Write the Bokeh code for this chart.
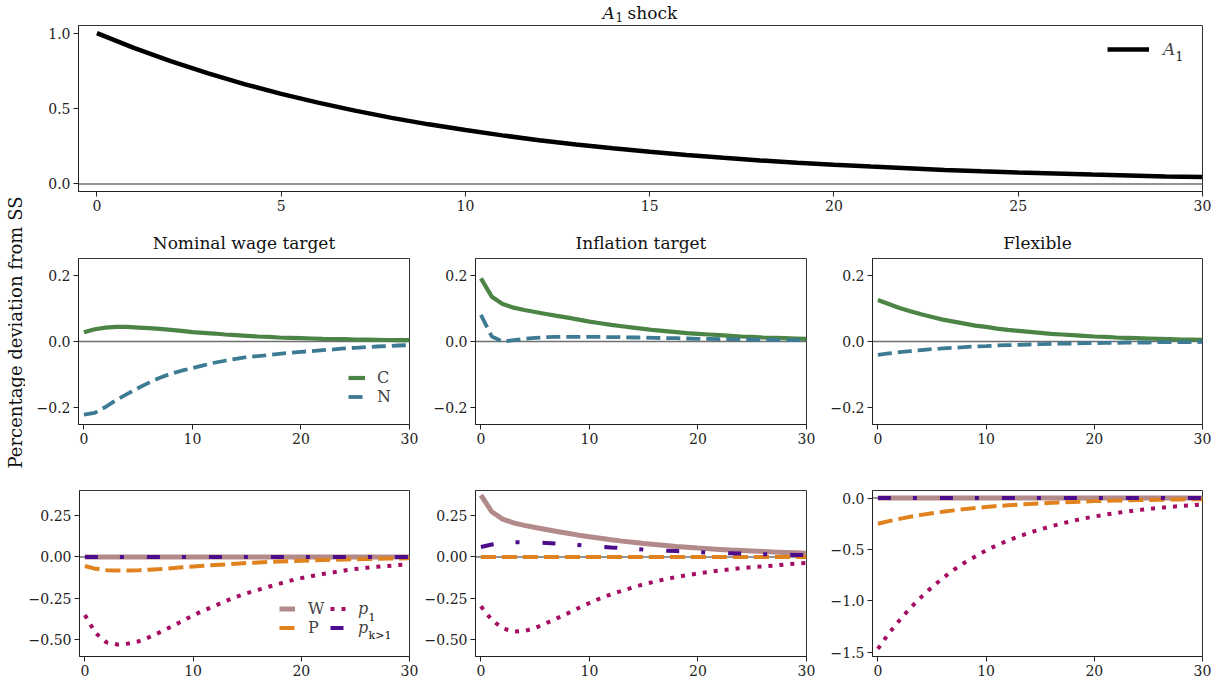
import math
from bokeh.plotting import figure
from bokeh.layouts import column, row
from bokeh.models import Range1d, FixedTicker, Span, Legend, LegendItem, Label
from bokeh.embed import file_html
from bokeh.resources import INLINE

FONT = "DejaVu Serif"

t = list(range(31))

# ---- top panel ----
A1 = [1.000, 0.902, 0.814, 0.734, 0.662, 0.597, 0.539, 0.486, 0.438, 0.395, 0.357,
      0.322, 0.290, 0.262, 0.236, 0.213, 0.192, 0.173, 0.156, 0.141, 0.127,
      0.115, 0.104, 0.093, 0.084, 0.076, 0.069, 0.062, 0.056, 0.050, 0.046]

# ---- middle row: C and N ----
C_nom = [0.028, 0.037, 0.042, 0.044, 0.044, 0.042, 0.040, 0.038, 0.035, 0.032, 0.028,
         0.026, 0.024, 0.021, 0.019, 0.017, 0.015, 0.014, 0.012, 0.011, 0.010,
         0.009, 0.008, 0.0075, 0.007, 0.006, 0.0055, 0.005, 0.0045, 0.004, 0.004]
N_nom = [-0.220, -0.215, -0.197, -0.176, -0.158, -0.140, -0.124, -0.109, -0.097, -0.088, -0.080,
         -0.072, -0.064, -0.058, -0.052, -0.047, -0.044, -0.041, -0.037, -0.034, -0.031,
         -0.029, -0.026, -0.024, -0.021, -0.019, -0.017, -0.015, -0.014, -0.012, -0.011]
C_inf = [0.190, 0.135, 0.113, 0.102, 0.095, 0.089, 0.083, 0.077, 0.072, 0.066, 0.060,
         0.055, 0.050, 0.046, 0.042, 0.038, 0.034, 0.031, 0.028, 0.025, 0.023,
         0.021, 0.019, 0.017, 0.015, 0.014, 0.012, 0.011, 0.010, 0.009, 0.008]
N_inf = [0.080, 0.015, 0.000, 0.004, 0.008, 0.011, 0.013, 0.014, 0.014, 0.014, 0.014,
         0.014, 0.013, 0.013, 0.012, 0.012, 0.011, 0.010, 0.010, 0.009, 0.008,
         0.008, 0.007, 0.007, 0.006, 0.006, 0.005, 0.005, 0.004, 0.004, 0.004]
C_flex = [0.125, 0.113, 0.101, 0.091, 0.082, 0.074, 0.066, 0.060, 0.054, 0.048, 0.044,
          0.039, 0.035, 0.032, 0.029, 0.026, 0.023, 0.021, 0.019, 0.017, 0.015,
          0.014, 0.012, 0.011, 0.010, 0.009, 0.008, 0.007, 0.006, 0.006, 0.005]
N_flex = [-0.040, -0.036, -0.032, -0.029, -0.026, -0.023, -0.021, -0.019, -0.017, -0.015, -0.014,
          -0.012, -0.011, -0.010, -0.009, -0.008, -0.007, -0.006, -0.006, -0.005, -0.005,
          -0.004, -0.004, -0.003, -0.003, -0.003, -0.002, -0.002, -0.002, -0.002, -0.001]

# ---- bottom row: W, P, p1, p_{k>1} ----
W_nom = [0.0, 0.0, 0.0, 0.0, 0.0, 0.0, 0.0, 0.0, 0.0, 0.0, 0.0,
         0.0, 0.0, 0.0, 0.0, 0.0, 0.0, 0.0, 0.0, 0.0, 0.0,
         0.0, 0.0, 0.0, 0.0, 0.0, 0.0, 0.0, 0.0, 0.0, 0.0]
P_nom = [-0.055, -0.072, -0.080, -0.082, -0.082, -0.080, -0.077, -0.073, -0.068, -0.063, -0.058,
         -0.053, -0.049, -0.045, -0.041, -0.037, -0.034, -0.031, -0.028, -0.025, -0.023,
         -0.021, -0.019, -0.017, -0.015, -0.014, -0.013, -0.011, -0.010, -0.009, -0.008]
p1_nom = [-0.350, -0.460, -0.515, -0.528, -0.522, -0.508, -0.482, -0.452, -0.420, -0.387, -0.352,
          -0.322, -0.295, -0.266, -0.240, -0.218, -0.199, -0.180, -0.161, -0.143, -0.128,
          -0.115, -0.103, -0.093, -0.082, -0.073, -0.066, -0.060, -0.055, -0.049, -0.045]
pk_nom = [0.0, 0.0, 0.0, 0.0, 0.0, 0.0, 0.0, 0.0, 0.0, 0.0, 0.0,
          0.0, 0.0, 0.0, 0.0, 0.0, 0.0, 0.0, 0.0, 0.0, 0.0,
          0.0, 0.0, 0.0, 0.0, 0.0, 0.0, 0.0, 0.0, 0.0, 0.0]

W_inf = [0.372, 0.272, 0.228, 0.205, 0.190, 0.177, 0.165, 0.153, 0.142, 0.131, 0.121,
         0.112, 0.103, 0.095, 0.088, 0.081, 0.075, 0.069, 0.063, 0.058, 0.053,
         0.049, 0.045, 0.041, 0.038, 0.035, 0.032, 0.029, 0.027, 0.025, 0.022]
P_inf = [0.0, 0.0, 0.0, 0.0, 0.0, 0.0, 0.0, 0.0, 0.0, 0.0, 0.0,
         0.0, 0.0, 0.0, 0.0, 0.0, 0.0, 0.0, 0.0, 0.0, 0.0,
         0.0, 0.0, 0.0, 0.0, 0.0, 0.0, 0.0, 0.0, 0.0, 0.0]
p1_inf = [-0.298, -0.380, -0.430, -0.450, -0.447, -0.428, -0.400, -0.370, -0.340, -0.308, -0.278,
          -0.250, -0.225, -0.204, -0.184, -0.165, -0.149, -0.134, -0.121, -0.110, -0.100,
          -0.090, -0.082, -0.074, -0.067, -0.062, -0.057, -0.052, -0.046, -0.040, -0.036]
pk_inf = [0.060, 0.075, 0.085, 0.089, 0.089, 0.087, 0.084, 0.080, 0.076, 0.071, 0.066,
          0.062, 0.057, 0.053, 0.049, 0.045, 0.041, 0.038, 0.035, 0.032, 0.029,
          0.026, 0.024, 0.022, 0.020, 0.018, 0.016, 0.015, 0.013, 0.012, 0.011]

W_flex = [0.0, 0.0, 0.0, 0.0, 0.0, 0.0, 0.0, 0.0, 0.0, 0.0, 0.0,
          0.0, 0.0, 0.0, 0.0, 0.0, 0.0, 0.0, 0.0, 0.0, 0.0,
          0.0, 0.0, 0.0, 0.0, 0.0, 0.0, 0.0, 0.0, 0.0, 0.0]
P_flex = [-0.250, -0.225, -0.203, -0.182, -0.164, -0.148, -0.133, -0.120, -0.108, -0.097, -0.087,
          -0.078, -0.071, -0.064, -0.057, -0.052, -0.046, -0.042, -0.038, -0.034, -0.030,
          -0.027, -0.025, -0.022, -0.020, -0.018, -0.016, -0.015, -0.013, -0.012, -0.011]
p1_flex = [-1.470, -1.320, -1.190, -1.070, -0.965, -0.868, -0.780, -0.700, -0.630, -0.570, -0.510,
           -0.460, -0.415, -0.375, -0.338, -0.305, -0.275, -0.248, -0.222, -0.200, -0.180,
           -0.162, -0.146, -0.131, -0.118, -0.106, -0.096, -0.086, -0.078, -0.070, -0.062]
pk_flex = [0.0, 0.0, 0.0, 0.0, 0.0, 0.0, 0.0, 0.0, 0.0, 0.0, 0.0,
           0.0, 0.0, 0.0, 0.0, 0.0, 0.0, 0.0, 0.0, 0.0, 0.0,
           0.0, 0.0, 0.0, 0.0, 0.0, 0.0, 0.0, 0.0, 0.0, 0.0]

# ---- titles / ticks ----
panel_titles = ["Nominal wage target", "Inflation target", "Flexible"]
ylabel_text = "Percentage deviation from SS"
top_xticks = [0, 5, 10, 15, 20, 25, 30]
top_yticks = [0.0, 0.5, 1.0]
top_ylabels = ["0.0", "0.5", "1.0"]
xticks = [0, 10, 20, 30]
mid_yticks = [-0.2, 0.0, 0.2]
mid_ylabels = ["\u22120.2", "0.0", "0.2"]
bot_yticks = [-0.5, -0.25, 0.0, 0.25]
bot_ylabels = ["\u22120.50", "\u22120.25", "0.00", "0.25"]
flex_yticks = [-1.5, -1.0, -0.5, 0.0]
flex_ylabels = ["\u22121.5", "\u22121.0", "\u22120.5", "0.0"]

COL_C = "#4B8445"
COL_N = "#3D7A94"
COL_W = "#B38A8A"
COL_P = "#E0821E"
COL_P1 = "#A50D62"
COL_PK = "#4C0C8C"


def make_fig(width, height, left, right, top, bottom, yr, title=None):
    p = figure(width=width, height=height, x_range=Range1d(-0.5, 30), y_range=Range1d(*yr),
               min_border_left=left, min_border_right=right, min_border_top=top,
               min_border_bottom=bottom, toolbar_location=None, output_backend="svg",
               title=title)
    p.grid.visible = False
    p.outline_line_color = "#333333"
    p.outline_line_width = 1
    p.background_fill_color = "white"
    for ax in p.axis:
        ax.major_tick_out = 5
        ax.major_tick_in = 0
        ax.minor_tick_out = 0
        ax.minor_tick_in = 0
        ax.major_label_standoff = 3
        ax.axis_line_color = "#222222"
        ax.major_tick_line_color = "#222222"
        ax.major_label_text_font = FONT
        ax.major_label_text_font_size = "14px"
        ax.major_label_text_color = "#222222"
    if title is not None:
        p.title.align = "center"
        p.title.text_font = FONT
        p.title.text_font_size = "17px"
        p.title.text_font_style = "normal"
        p.title.text_color = "#111111"
        p.title.standoff = 11
    p.add_layout(Span(location=0, dimension="width", line_color="#707070",
                      line_width=1.5, level="underlay"))
    return p


def set_ticks(p, xt, yt, ylab):
    p.xaxis.ticker = FixedTicker(ticks=xt)
    p.yaxis.ticker = FixedTicker(ticks=yt)
    p.yaxis.major_label_overrides = {v: s for v, s in zip(yt, ylab)}


def add_text(p, x, y, text, size="11px", style="normal", angle=0.0,
             align="left", baseline="alphabetic"):
    p.add_layout(Label(x=x, y=y, x_units="screen", y_units="screen", text=text,
                       text_font=FONT, text_font_size=size, text_font_style=style,
                       text_baseline=baseline, text_align=align, text_color="#111111",
                       angle=angle))


def blank_fig(width, height):
    p = figure(width=width, height=height, x_range=Range1d(0, 1), y_range=Range1d(0, 1),
               x_axis_type=None, y_axis_type=None, min_border=0, toolbar_location=None,
               output_backend="svg")
    p.grid.visible = False
    p.outline_line_color = None
    return p


# ---------------- left strip with shared y label ----------------
STRIP_W = 25
TOTAL_H = 678
strip = blank_fig(STRIP_W, TOTAL_H)
add_text(strip, 15, TOTAL_H - 332, ylabel_text, "18px", angle=math.pi / 2,
         align="center", baseline="middle")

# ---------------- title strip ----------------
TITLE_H = 24
tfig = blank_fig(1187, TITLE_H)
add_text(tfig, 524, 12, "A", "17px", "italic")
add_text(tfig, 537, 8, "1", "12px")
add_text(tfig, 549, 12, "shock", "17px")

# ---------------- top ----------------
topf = make_fig(1187, 201, 53, 10, 1, 34, (-0.05, 1.05))
set_ticks(topf, top_xticks, top_yticks, top_ylabels)
rA = topf.line(t, A1, line_color="black", line_width=4.5)
leg = Legend(items=[LegendItem(label="A", renderers=[rA])], location=(1029, 132),
             border_line_color=None, background_fill_alpha=0, padding=0, margin=0,
             spacing=0, glyph_width=42, glyph_height=20, label_height=20,
             label_standoff=14, label_text_font=FONT, label_text_font_size="17px",
             label_text_font_style="italic")
topf.add_layout(leg)
add_text(topf, 1097, 136, "1", "12px")

# ---------------- middle row ----------------
mid_y = (-0.25, 0.25)
m1 = make_fig(396, 245, 53, 12, 32, 46, mid_y, panel_titles[0])
m2 = make_fig(397, 245, 54, 12, 32, 46, mid_y, panel_titles[1])
m3 = make_fig(394, 245, 54, 10, 32, 46, mid_y, panel_titles[2])
mids = [(m1, C_nom, N_nom), (m2, C_inf, N_inf), (m3, C_flex, N_flex)]
mrs = []
for p, cv, nv in mids:
    set_ticks(p, xticks, mid_yticks, mid_ylabels)
    rc = p.line(t, cv, line_color=COL_C, line_width=4.2)
    rn = p.line(t, nv, line_color=COL_N, line_width=3.8, line_dash="14 6")
    mrs.append((rc, rn))
leg_m = Legend(items=[LegendItem(label="C", renderers=[mrs[0][0]]),
                      LegendItem(label="N", renderers=[mrs[0][1]])],
               location=(270, 18), border_line_color=None, background_fill_alpha=0,
               padding=0, margin=0, spacing=0, glyph_width=17, glyph_height=19,
               label_height=19, label_standoff=12, label_text_font=FONT,
               label_text_font_size="16px")
m1.add_layout(leg_m)

# ---------------- bottom row ----------------
bot_y = (-0.6, 0.4)
b1 = make_fig(396, 208, 53, 12, 20, 21, bot_y)
b2 = make_fig(397, 208, 54, 12, 20, 21, bot_y)
b3 = make_fig(394, 208, 54, 10, 20, 21, (-1.5435, 0.0735))
set_ticks(b1, xticks, bot_yticks, bot_ylabels)
set_ticks(b2, xticks, bot_yticks, bot_ylabels)
set_ticks(b3, xticks, flex_yticks, flex_ylabels)
bots = [(b1, W_nom, P_nom, p1_nom, pk_nom), (b2, W_inf, P_inf, p1_inf, pk_inf),
        (b3, W_flex, P_flex, p1_flex, pk_flex)]
brs = []
for p, wv, pv, p1v, pkv in bots:
    rw = p.line(t, wv, line_color=COL_W, line_width=5)
    rp = p.line(t, pv, line_color=COL_P, line_width=4, line_dash="15 6")
    r1 = p.line(t, p1v, line_color=COL_P1, line_width=4, line_dash="4 7")
    rk = p.line(t, pkv, line_color=COL_PK, line_width=4, line_dash="13 22 4 23")
    brs.append((rw, rp, r1, rk))
rw, rp, r1, rk = brs[0]
leg_b1 = Legend(items=[LegendItem(label="W", renderers=[rw]), LegendItem(label="P", renderers=[rp])],
                location=(200, 19), border_line_color=None, background_fill_alpha=0,
                padding=0, margin=0, spacing=0, glyph_width=16, glyph_height=19,
                label_height=19, label_standoff=13, label_text_font=FONT,
                label_text_font_size="16px")
leg_b2 = Legend(items=[LegendItem(label="p", renderers=[r1]), LegendItem(label="p", renderers=[rk])],
                location=(251, 19), border_line_color=None, background_fill_alpha=0,
                padding=0, margin=0, spacing=0, glyph_width=16, glyph_height=19,
                label_height=19, label_standoff=12, label_text_font=FONT,
                label_text_font_size="16px", label_text_font_style="italic")
b1.add_layout(leg_b1)
b1.add_layout(leg_b2)
add_text(b1, 289, 40, "1", "11px")
add_text(b1, 289, 21, "k>1", "11px")

right_part = column(tfig, topf, row(m1, m2, m3), row(b1, b2, b3))
layout = row(strip, right_part)
open("out.html", "w").write(file_html(layout, INLINE))
